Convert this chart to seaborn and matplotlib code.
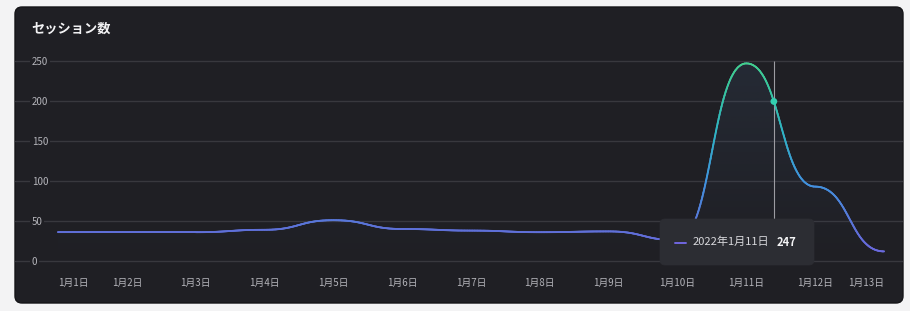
import numpy as np
import pandas as pd
import matplotlib
matplotlib.use("Agg")
import matplotlib.pyplot as plt
import seaborn as sns
from matplotlib.collections import LineCollection
from matplotlib.patches import FancyBboxPatch, Polygon
from matplotlib.colors import LinearSegmentedColormap, Normalize
from matplotlib.lines import Line2D

# ---------------- data ----------------
dates = ["1月1日", "1月2日", "1月3日", "1月4日", "1月5日", "1月6日", "1月7日",
         "1月8日", "1月9日", "1月10日", "1月11日", "1月12日", "1月13日"]
sessions = [36, 36, 36, 39, 51, 40, 38, 36, 37, 26, 247, 93, 12]
y_ticks = [0, 50, 100, 150, 200, 250]
title = "セッション数"
tooltip_label = "2022年1月11日"
tooltip_index = 10
cursor_pos = 10.40  # mouse position between 1/11 and 1/12

# ---------------- style ----------------
PAGE = "#f3f3f4"
CARD = "#1f1f24"
GRID = "#38383e"
TICK = "#b4b4ba"

sns.set_theme(style="dark")
plt.rcParams["font.family"] = ["Noto Sans CJK JP", "DejaVu Sans"]

df = pd.DataFrame({"x": np.arange(len(dates)), "date": dates, "sessions": sessions})

fig = plt.figure(figsize=(9.1, 3.11), dpi=100, facecolor=PAGE)

card = FancyBboxPatch((0.15, 0.08), 8.88, 2.96,
                      boxstyle="round,pad=0,rounding_size=0.07",
                      transform=fig.dpi_scale_trans, fc=CARD, ec="#141417",
                      lw=1, zorder=-1)
fig.patches.append(card)

ax = fig.add_axes([15 / 910, 8 / 311, 888 / 910, 296 / 311])
ax.set_facecolor("none")

# scales: point 0 at px 58, point 12 at px 884; value 0 at px 261, 250 at px 61
sx = (884 - 58) / (len(dates) - 1)
ax.set_xlim(-(58 - 15) / sx, (len(dates) - 1) + (903 - 884) / sx)
ax.set_ylim(-(303 - 261) / 0.8, 250 + (61 - 7) / 0.8)

# smooth "bump" curve (horizontal tangents at each point), rendering only
def bump_curve(xs, ys, k=60):
    t = np.linspace(0, 1, k)
    px, py = [], []
    for i in range(len(xs) - 1):
        x0, x1, y0, y1 = xs[i], xs[i + 1], ys[i], ys[i + 1]
        xm = (x0 + x1) / 2
        bx = (1 - t) ** 3 * x0 + 3 * (1 - t) ** 2 * t * xm + 3 * (1 - t) * t ** 2 * xm + t ** 3 * x1
        by = (1 - t) ** 3 * y0 + 3 * (1 - t) ** 2 * t * y0 + 3 * (1 - t) * t ** 2 * y1 + t ** 3 * y1
        if i > 0:
            bx, by = bx[1:], by[1:]
        px.append(bx)
        py.append(by)
    return np.concatenate(px), np.concatenate(py)

cx, cy = bump_curve(df["x"].to_numpy(float), df["sessions"].to_numpy(float))

# gradient fill under curve
grad = np.zeros((256, 2, 4))
fill_rgb = matplotlib.colors.to_rgb("#4f78a8")
grad[..., 0], grad[..., 1], grad[..., 2] = fill_rgb
grad[..., 3] = np.linspace(0.13, 0.0, 256)[:, None]
im = ax.imshow(grad, extent=[cx.min(), cx.max(), 0, 250], aspect="auto",
               origin="upper", zorder=1, interpolation="bilinear")
poly = Polygon(np.column_stack([np.r_[cx, cx[-1], cx[0]], np.r_[cy, 0, 0]]),
               closed=True, fc="none", ec="none", transform=ax.transData)
ax.add_patch(poly)
im.set_clip_path(poly)

# base line through seaborn, then gradient overlay
sns.lineplot(x=cx, y=cy, ax=ax, color="#5f72dc", lw=1.2, estimator=None,
             sort=False, zorder=2)

cmap = LinearSegmentedColormap.from_list(
    "sess", [(0.0, "#7066e0"), (0.15, "#5f70d8"), (0.4, "#3e95dc"),
             (0.65, "#2cb8bf"), (0.85, "#35c99a"), (1.0, "#42d389")])
pts = np.column_stack([cx, cy]).reshape(-1, 1, 2)
segs = np.concatenate([pts[:-1], pts[1:]], axis=1)
lc = LineCollection(segs, cmap=cmap, norm=Normalize(0, 250), lw=1.3,
                    capstyle="round", zorder=3)
lc.set_array((cy[:-1] + cy[1:]) / 2)
ax.add_collection(lc)

# hover cursor and dot
cursor_y = np.interp(cursor_pos, cx, cy)
ax.vlines(cursor_pos, cursor_y, 250, color="#9c9ca2", lw=0.8, zorder=2.5)
ax.vlines(cursor_pos, 0, cursor_y, color="#9c9ca2", lw=0.8, zorder=2.5)
sns.scatterplot(x=[cursor_pos], y=[cursor_y], ax=ax, color="#33d0b0", s=24,
                edgecolor="none", zorder=5)

# grid and ticks
ax.set_yticks(y_ticks)
ax.set_xticks(df["x"])
ax.set_xticklabels(dates)
ax.grid(axis="y", color=GRID, lw=1)
ax.grid(axis="x", visible=False)
ax.set_axisbelow(True)
for s in ax.spines.values():
    s.set_visible(False)
ax.set_xlabel("")
ax.set_ylabel("")
ax.tick_params(axis="both", length=0, colors=TICK, labelsize=7)
ax.tick_params(axis="y", pad=-12.2)
ax.tick_params(axis="x", pad=-18)
for lab in ax.get_yticklabels():
    lab.set_ha("left")
    lab.set_bbox(dict(fc=CARD, ec="none", pad=1.2))
xl = ax.get_xticklabels()
xl[0].set_ha("left")
xl[-1].set_ha("right")

# title
fig.text(31 / 910, 1 - 29 / 311, title, fontsize=9.5, fontweight="bold",
         color="#f2f2f4", va="center", ha="left")

# tooltip
tip = FancyBboxPatch((6.60, 0.46), 1.54, 0.46,
                     boxstyle="round,pad=0,rounding_size=0.05",
                     transform=fig.dpi_scale_trans, fc="#2c2d33", ec="#2c2d33",
                     lw=0.5, zorder=6)
fig.patches.append(tip)
fig.lines.append(Line2D([6.75, 6.86], [0.68, 0.68], transform=fig.dpi_scale_trans,
                        color="#7066e0", lw=1.4, zorder=7))
fig.text(6.93, 0.69, tooltip_label, transform=fig.dpi_scale_trans, fontsize=8,
         color="#d8d8dc", va="center", ha="left", zorder=7)
fig.text(7.77, 0.69, str(sessions[tooltip_index]), transform=fig.dpi_scale_trans,
         fontsize=8, fontweight="bold", color="#f4f4f6", va="center", ha="left",
         zorder=7)

fig.savefig("out.png", dpi=100, facecolor=PAGE)
